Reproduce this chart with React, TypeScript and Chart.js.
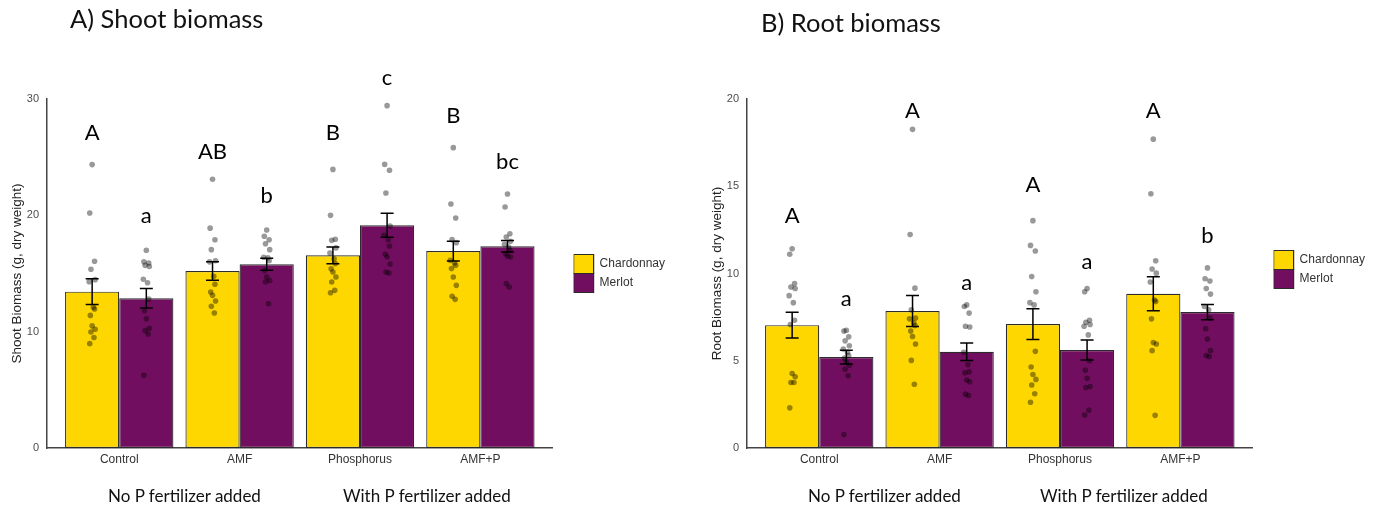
import React, { useEffect, useRef } from 'react';
import { Chart, registerables } from 'chart.js';

Chart.register(...registerables);

// ---------- data ----------
const CATEGORIES = ['Control', 'AMF', 'Phosphorus', 'AMF+P'];
const VARIETIES = ['Chardonnay', 'Merlot'];
const VARIETY_COLORS = ['#FFD700', '#720E5F'];
const GROUP_LABELS = ['No P fertilizer added', 'With P fertilizer added'];

// Shoot biomass
const SHOOT_MEAN_CHARD = [13.44, 15.21, 16.56, 16.93];
const SHOOT_MEAN_MERLOT = [12.87, 15.79, 19.14, 17.34];
const SHOOT_SE_CHARD = [1.1, 0.79, 0.72, 0.85];
const SHOOT_SE_MERLOT = [0.83, 0.52, 1.03, 0.5];
const SHOOT_PTS_CHARD = [
  [24.36, 20.2, 16.05, 15.36, 14.47, 14.3, 12.1, 11.95, 11.4, 10.5, 10.2, 9.97, 9.5, 8.97],
  [23.1, 18.9, 17.9, 17.05, 16.1, 16.0, 14.76, 14.07, 13.41, 13.12, 12.64, 12.18, 11.6],
  [23.95, 20.0, 17.95, 17.85, 17.2, 16.76, 16.27, 15.85, 15.4, 15.13, 14.7, 14.27, 13.55, 13.35],
  [25.82, 20.97, 19.77, 17.91, 17.65, 16.13, 15.9, 15.7, 15.42, 14.7, 13.98, 13.04, 12.78],
];
const SHOOT_PTS_MERLOT = [
  [17.0, 16.0, 15.9, 15.7, 15.6, 14.5, 14.2, 12.8, 11.8, 11.1, 10.3, 10.1, 9.8, 6.25],
  [18.74, 18.2, 17.9, 17.56, 17.05, 16.4, 16.36, 16.1, 15.27, 14.7, 14.4, 14.27, 12.4],
  [29.43, 24.38, 23.87, 21.92, 19.08, 18.28, 17.9, 17.36, 16.65, 16.42, 15.82, 15.13, 15.04],
  [21.83, 20.72, 18.42, 18.14, 17.77, 17.5, 17.28, 16.99, 16.7, 16.5, 16.42, 14.13, 13.84],
];
const SHOOT_LETTERS_CHARD = ['A', 'AB', 'B', 'B'];
const SHOOT_LETTERS_MERLOT = ['a', 'b', 'c', 'bc'];
const SHOOT_LETTER_Y_CHARD = [26.48, 24.84, 26.48, 27.91];
const SHOOT_LETTER_Y_MERLOT = [19.32, 21.03, 31.2, 23.98];

// Root biomass
const ROOT_MEAN_CHARD = [7.04, 7.85, 7.1, 8.84];
const ROOT_MEAN_MERLOT = [5.21, 5.52, 5.62, 7.79];
const ROOT_SE_CHARD = [0.74, 0.89, 0.88, 0.98];
const ROOT_SE_MERLOT = [0.39, 0.5, 0.57, 0.44];
const ROOT_PTS_CHARD = [
  [11.42, 11.1, 9.42, 9.23, 9.14, 8.73, 8.33, 7.32, 7.08, 4.27, 4.08, 3.75, 3.75, 2.3],
  [18.26, 12.23, 9.16, 7.92, 7.45, 7.4, 7.17, 7.02, 6.7, 6.39, 5.96, 5.02, 3.65],
  [13.03, 11.61, 11.29, 9.83, 8.95, 8.33, 8.2, 5.54, 4.64, 4.21, 3.93, 3.61, 3.11, 2.62],
  [17.7, 14.57, 10.73, 10.26, 10.02, 9.51, 8.48, 8.39, 7.4, 6.05, 5.96, 5.58, 1.87],
];
const ROOT_PTS_MERLOT = [
  [6.74, 6.7, 6.37, 6.14, 5.86, 5.67, 5.49, 5.3, 5.15, 4.92, 4.74, 4.51, 4.14, 0.77],
  [8.2, 8.11, 7.73, 6.98, 6.93, 5.49, 4.78, 4.36, 4.31, 3.9, 3.8, 3.09, 3.01],
  [9.14, 8.95, 7.32, 7.21, 7.08, 6.98, 6.48, 5.0, 4.46, 3.99, 3.52, 3.46, 2.17, 1.89],
  [10.32, 9.7, 9.57, 9.14, 8.82, 8.11, 7.92, 7.45, 6.84, 6.24, 5.58, 5.3, 5.24],
];
const ROOT_LETTERS_CHARD = ['A', 'A', 'A', 'A'];
const ROOT_LETTERS_MERLOT = ['a', 'a', 'a', 'b'];
const ROOT_LETTER_Y_CHARD = [12.9, 18.9, 14.68, 18.9];
const ROOT_LETTER_Y_MERLOT = [8.16, 9.06, 10.24, 11.74];

// small horizontal jitter of the individual points (x-axis units)
const JITTER = [0.0, -0.02, 0.02, -0.01, 0.025, -0.025, 0.01, 0.02, -0.015, 0.0, 0.025, -0.01, 0.015, -0.02];

const SANS = '"Liberation Sans", Arial, Helvetica, sans-serif';
const HUMAN = 'Lato, "Open Sans", sans-serif';

type PanelCfg = {
  yTitle: string;
  yMax: number;
  yStep: number;
  means: number[][];
  ses: number[][];
  points: number[][][];
  letters: string[][];
  letterY: number[][];
  legendShift: number;
};

const SHOOT: PanelCfg = {
  yTitle: 'Shoot Biomass (g, dry weight)',
  yMax: 30,
  yStep: 10,
  means: [SHOOT_MEAN_CHARD, SHOOT_MEAN_MERLOT],
  ses: [SHOOT_SE_CHARD, SHOOT_SE_MERLOT],
  points: [SHOOT_PTS_CHARD, SHOOT_PTS_MERLOT],
  letters: [SHOOT_LETTERS_CHARD, SHOOT_LETTERS_MERLOT],
  letterY: [SHOOT_LETTER_Y_CHARD, SHOOT_LETTER_Y_MERLOT],
  legendShift: 0,
};

const ROOT: PanelCfg = {
  yTitle: 'Root Biomass (g, dry weight)',
  yMax: 20,
  yStep: 5,
  means: [ROOT_MEAN_CHARD, ROOT_MEAN_MERLOT],
  ses: [ROOT_SE_CHARD, ROOT_SE_MERLOT],
  points: [ROOT_PTS_CHARD, ROOT_PTS_MERLOT],
  letters: [ROOT_LETTERS_CHARD, ROOT_LETTERS_MERLOT],
  letterY: [ROOT_LETTER_Y_CHARD, ROOT_LETTER_Y_MERLOT],
  legendShift: -4,
};

const CANVAS_W = 690;
const CANVAS_H = 508;

function Panel({ cfg, left }: { cfg: PanelCfg; left: number }) {
  const ref = useRef<HTMLCanvasElement | null>(null);

  useEffect(() => {
    if (!ref.current) return;
    const barSets = VARIETIES.map((name, d) => ({
      type: 'bar' as const,
      label: name,
      data: cfg.means[d].map((m, i) => ({ x: i + 1, y: m })),
      backgroundColor: VARIETY_COLORS[d],
      borderColor: '#2b2b2b',
      borderWidth: 1.2,
      borderSkipped: false,
      categoryPercentage: 0.9,
      barPercentage: 1.0,
      order: 2,
    }));
    const pointSets = VARIETIES.map((name, d) => ({
      type: 'scatter' as const,
      label: name + ' plants',
      data: cfg.points[d].flatMap((arr, i) =>
        arr.map((v, j) => ({ x: i + 1 + (d === 0 ? -0.225 : 0.225) + JITTER[j % JITTER.length], y: v }))
      ),
      backgroundColor: 'rgba(0,0,0,0.4)',
      borderWidth: 0,
      pointRadius: 2.8,
      order: 1,
    }));

    const overlay = {
      id: 'overlay',
      afterLayout(chart: any) {
        const lg = chart.legend;
        if (lg) {
          const w = lg.width;
          lg.left = chart.chartArea.right + 21;
          lg.right = lg.left + w;
          lg.top += cfg.legendShift;
          lg.bottom += cfg.legendShift;
        }
      },
      afterDatasetsDraw(chart: any) {
        const ctx = chart.ctx;
        const ys = chart.scales.y;
        ctx.save();
        ctx.strokeStyle = '#000';
        ctx.lineWidth = 1.5;
        for (let d = 0; d < 2; d++) {
          const meta = chart.getDatasetMeta(d);
          meta.data.forEach((el: any, i: number) => {
            const m = cfg.means[d][i];
            const s = cfg.ses[d][i];
            const top = ys.getPixelForValue(m + s);
            const bot = ys.getPixelForValue(m - s);
            const cap = 6.5;
            ctx.beginPath();
            ctx.moveTo(el.x, top);
            ctx.lineTo(el.x, bot);
            ctx.moveTo(el.x - cap, top);
            ctx.lineTo(el.x + cap, top);
            ctx.moveTo(el.x - cap, bot);
            ctx.lineTo(el.x + cap, bot);
            ctx.stroke();
          });
        }
        ctx.restore();
      },
      afterDraw(chart: any) {
        const ctx = chart.ctx;
        const ys = chart.scales.y;
        ctx.save();
        ctx.fillStyle = '#000';
        ctx.font = `22px ${HUMAN}`;
        ctx.textAlign = 'center';
        ctx.textBaseline = 'alphabetic';
        for (let d = 0; d < 2; d++) {
          const meta = chart.getDatasetMeta(d);
          meta.data.forEach((el: any, i: number) => {
            ctx.fillText(cfg.letters[d][i], el.x, ys.getPixelForValue(cfg.letterY[d][i]));
          });
        }
        ctx.restore();
      },
    };

    const chart = new Chart(ref.current, {
      type: 'bar',
      data: { datasets: [...barSets, ...pointSets] as any },
      options: {
        animation: false,
        responsive: false,
        devicePixelRatio: 1,
        layout: { padding: { left: 0, top: 99, right: 36, bottom: 30 } },
        plugins: {
          legend: {
            position: 'right',
            align: 'center',
            fullSize: false,
            labels: {
              boxWidth: 20,
              boxHeight: 19,
              padding: 0,
              color: '#333',
              font: { size: 12, family: SANS },
              filter: (item: any) => item.datasetIndex < 2,
            },
          },
          tooltip: { enabled: false },
        },
        scales: {
          x: {
            type: 'linear',
            min: 0.4,
            max: 4.6,
            offset: false,
            afterBuildTicks: (s: any) => {
              s.ticks = CATEGORIES.map((_, i) => ({ value: i + 1 }));
            },
            afterFit: (s: any) => {
              s.height = 30;
            },
            grid: { display: false, drawTicks: false },
            border: { display: true, color: '#444', width: 1.5 },
            ticks: {
              padding: 4,
              color: '#333',
              font: { size: 12, family: SANS },
              autoSkip: false,
              maxRotation: 0,
              callback: (v: any) => CATEGORIES[Math.round(v) - 1] ?? '',
            },
          },
          y: {
            type: 'linear',
            min: 0,
            max: cfg.yMax,
            afterFit: (s: any) => {
              s.width = 47;
            },
            grid: { display: false, drawTicks: false },
            border: { display: true, color: '#444', width: 1.5 },
            ticks: {
              stepSize: cfg.yStep,
              padding: 8,
              color: '#4d4d4d',
              font: { size: 11, family: SANS },
            },
            title: {
              display: true,
              text: cfg.yTitle,
              color: '#222',
              font: { size: 13.5, family: SANS },
              padding: { top: 9, bottom: 0 },
            },
          },
        },
      },
      plugins: [overlay],
    });
    return () => chart.destroy();
  }, [cfg]);

  return (
    <div style={{ position: 'absolute', left, top: 0, width: CANVAS_W, height: CANVAS_H }}>
      <canvas ref={ref} width={CANVAS_W} height={CANVAS_H} style={{ display: 'block' }} />
    </div>
  );
}

const textStyle = (left: number, top: number, size: number): React.CSSProperties => ({
  position: 'absolute',
  left,
  top,
  fontFamily: HUMAN,
  fontSize: size,
  lineHeight: 1,
  color: '#111',
  whiteSpace: 'nowrap',
});

export default function App() {
  return (
    <div style={{ position: 'absolute', left: 0, top: 0, width: 1374, height: 508, background: '#fff', overflow: 'hidden' }}>
      <Panel cfg={SHOOT} left={0} />
      <Panel cfg={ROOT} left={700} />
      <div style={textStyle(70, 6, 25.5)}>A) Shoot biomass</div>
      <div style={textStyle(761, 9.5, 25.5)}>B) Root biomass</div>
      <div style={textStyle(108, 487, 17)}>{GROUP_LABELS[0]}</div>
      <div style={textStyle(343, 487, 17)}>{GROUP_LABELS[1]}</div>
      <div style={textStyle(808, 487, 17)}>{GROUP_LABELS[0]}</div>
      <div style={textStyle(1040, 487, 17)}>{GROUP_LABELS[1]}</div>
    </div>
  );
}
